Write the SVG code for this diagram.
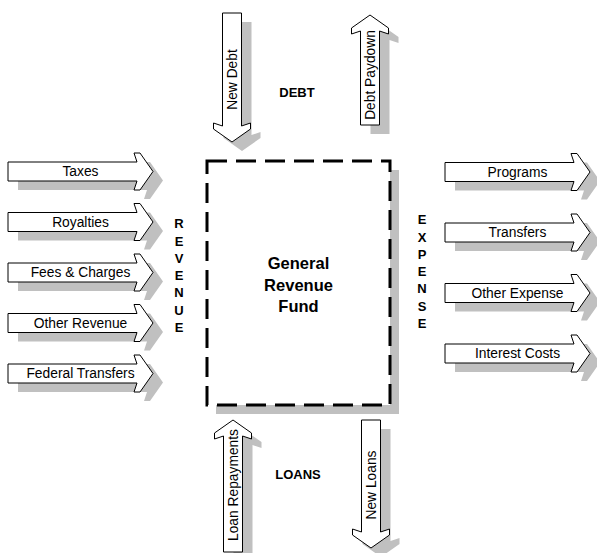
<svg xmlns="http://www.w3.org/2000/svg" xmlns:xlink="http://www.w3.org/1999/xlink" width="597" height="553" viewBox="0 0 597 553">
<style>
.ar{fill:#fff;stroke:#000;stroke-width:1}
.sh{fill:#c0c0c0;stroke:none}
.lb{font-family:"Liberation Sans",Arial,sans-serif;font-size:13.8px;fill:#000;text-anchor:middle}
.bd{font-family:"Liberation Sans",Arial,sans-serif;font-size:13px;font-weight:bold;fill:#000;text-anchor:middle}
.tt{font-family:"Liberation Sans",Arial,sans-serif;font-size:16.5px;font-weight:bold;fill:#000;text-anchor:middle}
</style>
<defs>
<path id="harrow" d="M0,-9.5 H129 L126,-18.5 H132 L145,0 L132,18.5 H126 L129,9.5 H0 Z"/>
</defs>
<rect width="597" height="553" fill="#fff"/>

<g id="fund">
<rect class="sh" x="216" y="170" width="183" height="244"/>
<rect x="207" y="161" width="183" height="244" fill="#fff" stroke="#000" stroke-width="3" stroke-dasharray="20 9"/>
<text class="tt" x="298.5" y="269">General</text>
<text class="tt" x="298.5" y="291">Revenue</text>
<text class="tt" x="298.5" y="312">Fund</text>
</g>

<g id="revenue-label">
<text class="bd" x="179" y="228.2">R</text>
<text class="bd" x="179" y="245.5">E</text>
<text class="bd" x="179" y="262.8">V</text>
<text class="bd" x="179" y="280.1">E</text>
<text class="bd" x="179" y="297.4">N</text>
<text class="bd" x="179" y="314.7">U</text>
<text class="bd" x="179" y="332">E</text>
</g>
<g id="expense-label">
<text class="bd" x="422" y="224.2">E</text>
<text class="bd" x="422" y="241.5">X</text>
<text class="bd" x="422" y="258.8">P</text>
<text class="bd" x="422" y="276.1">E</text>
<text class="bd" x="422" y="293.4">N</text>
<text class="bd" x="422" y="310.7">S</text>
<text class="bd" x="422" y="328">E</text>
</g>
<g id="debt-label"><text class="bd" x="297" y="96.7">DEBT</text></g>
<g id="loans-label"><text class="bd" x="298" y="478.7">LOANS</text></g>

<g id="connectors">
<g id="taxes"><use href="#harrow" class="sh" transform="translate(18,180.5)"/><use href="#harrow" class="ar" transform="translate(8,171.5)"/><text class="lb" x="80.5" y="176.4">Taxes</text></g>
<g id="royalties"><use href="#harrow" class="sh" transform="translate(18,231)"/><use href="#harrow" class="ar" transform="translate(8,222)"/><text class="lb" x="80.5" y="226.9">Royalties</text></g>
<g id="fees"><use href="#harrow" class="sh" transform="translate(18,281.5)"/><use href="#harrow" class="ar" transform="translate(8,272.5)"/><text class="lb" x="80.5" y="277.4">Fees &amp; Charges</text></g>
<g id="other-revenue"><use href="#harrow" class="sh" transform="translate(18,332)"/><use href="#harrow" class="ar" transform="translate(8,323)"/><text class="lb" x="80.5" y="327.9">Other Revenue</text></g>
<g id="federal-transfers"><use href="#harrow" class="sh" transform="translate(18,382.5)"/><use href="#harrow" class="ar" transform="translate(8,373.5)"/><text class="lb" x="80.5" y="378.4">Federal Transfers</text></g>

<g id="programs"><use href="#harrow" class="sh" transform="translate(455,181)"/><use href="#harrow" class="ar" transform="translate(445,172)"/><text class="lb" x="517.5" y="176.9">Programs</text></g>
<g id="transfers"><use href="#harrow" class="sh" transform="translate(455,241.5)"/><use href="#harrow" class="ar" transform="translate(445,232.5)"/><text class="lb" x="517.5" y="237.4">Transfers</text></g>
<g id="other-expense"><use href="#harrow" class="sh" transform="translate(455,302)"/><use href="#harrow" class="ar" transform="translate(445,293)"/><text class="lb" x="517.5" y="297.9">Other Expense</text></g>
<g id="interest-costs"><use href="#harrow" class="sh" transform="translate(455,362.5)"/><use href="#harrow" class="ar" transform="translate(445,353.5)"/><text class="lb" x="517.5" y="358.4">Interest Costs</text></g>

<g id="new-debt">
<path class="sh" transform="translate(10,9)" d="M222.5,13 H241.5 V126 L250.5,123 V129 L232,142 L213.5,129 V123 L222.5,126 Z"/>
<path class="ar" d="M222.5,13 H241.5 V126 L250.5,123 V129 L232,142 L213.5,129 V123 L222.5,126 Z"/>
<text class="lb" transform="translate(232,79.5) rotate(-90)" x="0" y="4.9">New Debt</text>
</g>
<g id="debt-paydown">
<path class="sh" transform="translate(10,9)" d="M360.5,125 V31 L351.5,34 V28 L370,15 L388.5,28 V34 L379.5,31 V125 Z"/>
<path class="ar" d="M360.5,125 V31 L351.5,34 V28 L370,15 L388.5,28 V34 L379.5,31 V125 Z"/>
<text class="lb" transform="translate(370,75) rotate(-90)" x="0" y="4.9">Debt Paydown</text>
</g>
<g id="loan-repayments">
<path class="sh" transform="translate(10,9)" d="M223.5,552 V436 L214.5,439 V433 L233,420 L251.5,433 V439 L242.5,436 V552 Z"/>
<path class="ar" d="M223.5,552 V436 L214.5,439 V433 L233,420 L251.5,433 V439 L242.5,436 V552 Z"/>
<text class="lb" transform="translate(233,485) rotate(-90)" x="0" y="4.9">Loan Repayments</text>
</g>
<g id="new-loans">
<path class="sh" transform="translate(10,9)" d="M361.5,420 H380.5 V532 L389.5,529 V535 L371,548 L352.5,535 V529 L361.5,532 Z"/>
<path class="ar" d="M361.5,420 H380.5 V532 L389.5,529 V535 L371,548 L352.5,535 V529 L361.5,532 Z"/>
<text class="lb" transform="translate(371,485) rotate(-90)" x="0" y="4.9">New Loans</text>
</g>
</g>
</svg>
